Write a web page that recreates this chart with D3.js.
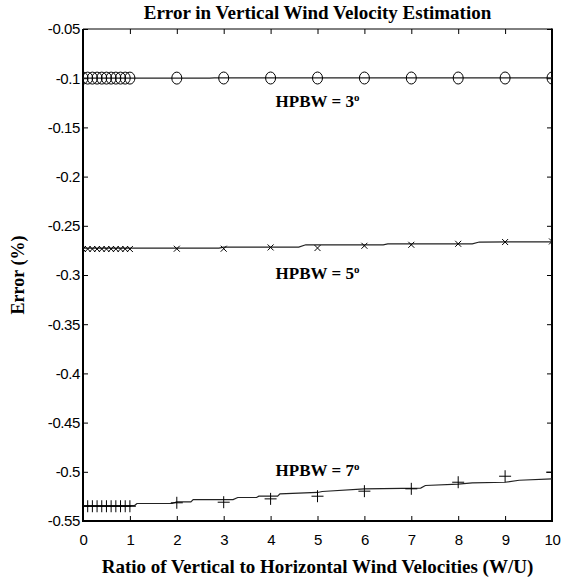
<!DOCTYPE html>
<html>
<head>
<meta charset="utf-8">
<script src="https://cdn.jsdelivr.net/npm/d3@7"></script>
<style>
    body { margin: 0; background: #fff; }
    svg { display: block; }
</style>
</head>
<body>
<div class="chart"></div>
<script>
// Données
const ratios = [0, 0.1, 0.2, 0.3, 0.4, 0.5, 0.6, 0.7, 0.8, 0.9, 1, 2, 3, 4, 5, 6, 7, 8, 9, 10]

const err3 = [-0.0999, -0.0999, -0.0999, -0.0999, -0.0999, -0.0999, -0.0999, -0.0999, -0.0999, -0.0999, -0.0999,
    -0.0999, -0.0998, -0.0998, -0.0998, -0.0998, -0.0998, -0.0998, -0.0998, -0.0998]
const err5 = [-0.2736, -0.2736, -0.2736, -0.2736, -0.2736, -0.2736, -0.2736, -0.2736, -0.2736, -0.2736, -0.2736,
    -0.2733, -0.2733, -0.2720, -0.2726, -0.2703, -0.2693, -0.2683, -0.2665, -0.2659]
const err7 = [-0.535, -0.535, -0.535, -0.535, -0.535, -0.535, -0.535, -0.535, -0.535, -0.535, -0.535,
    -0.5315, -0.5309, -0.5275, -0.5248, -0.5197, -0.5173, -0.5106, -0.5045, -0.5004]

// Courbes continues (en escalier)
const curve3X = [0, 2.7, 2.8, 10]
const curve3Y = [-0.1000, -0.1000, -0.0997, -0.0997]
const curve5X = [0, 2.9, 3.0, 4.6, 4.75, 6.4, 6.5, 8.3, 8.45, 10]
const curve5Y = [-0.2726, -0.2726, -0.2716, -0.2716, -0.2693, -0.2693, -0.2683, -0.2683, -0.2665, -0.2663]
const curve7X = [0, 1.1, 1.15, 1.9, 2.0, 2.3, 2.35, 3.2, 3.3, 3.7, 3.75, 4.15, 4.2, 5.0, 5.1, 6, 7.2, 7.3, 8, 8.3, 9, 9.3, 10]
const curve7Y = [-0.5343, -0.5343, -0.5322, -0.5322, -0.5305, -0.5305, -0.5282, -0.5282, -0.5261, -0.5261, -0.5248,
    -0.5248, -0.5224, -0.5210, -0.5200, -0.5173, -0.5165, -0.5139, -0.5125, -0.5112, -0.5106, -0.5086, -0.5071]

const xTicks = [0, 1, 2, 3, 4, 5, 6, 7, 8, 9, 10]
const yTicks = [-0.05, -0.1, -0.15, -0.2, -0.25, -0.3, -0.35, -0.4, -0.45, -0.5, -0.55]
const yTickLabels = ['-0.05', '-0.1', '-0.15', '-0.2', '-0.25', '-0.3', '-0.35', '-0.4', '-0.45', '-0.5', '-0.55']

const labels = [
    { text: 'HPBW = 3', x: 5, y: -0.129 },
    { text: 'HPBW = 5', x: 5, y: -0.304 },
    { text: 'HPBW = 7', x: 5, y: -0.5045 }
]

// Dimensions
const width = 568,
    height = 580
const margin = { top: 29, right: 16, bottom: 59, left: 83 }
const plotW = width - margin.left - margin.right,
    plotH = height - margin.top - margin.bottom

const svg = d3.select('.chart')
    .append('svg')
    .attr('width', width)
    .attr('height', height)

const g = svg.append('g')
    .attr('transform', `translate(${margin.left}, ${margin.top})`)

// Échelles
const x = d3.scaleLinear().domain([0, 10]).range([0, plotW])
const y = d3.scaleLinear().domain([-0.55, -0.05]).range([plotH, 0])

g.append('clipPath')
    .attr('id', 'clip')
    .append('rect')
    .attr('width', plotW)
    .attr('height', plotH)

const serif = "'Liberation Serif', 'Times New Roman', serif"
const sans = "'Liberation Sans', Arial, sans-serif"

// Axes (ticks vers l'intérieur, sur les 4 côtés)
const tickLen = 5
const axB = g.append('g')
    .attr('transform', `translate(0, ${plotH})`)
    .call(d3.axisBottom(x).tickValues(xTicks).tickSize(-tickLen).tickPadding(13).tickFormat(d3.format('d')))
const axT = g.append('g')
    .call(d3.axisTop(x).tickValues(xTicks).tickSize(-tickLen).tickFormat(''))
const axL = g.append('g')
    .call(d3.axisLeft(y).tickValues(yTicks).tickSize(-tickLen).tickPadding(3)
        .tickFormat((d, i) => yTickLabels[i]))
const axR = g.append('g')
    .attr('transform', `translate(${plotW}, 0)`)
    .call(d3.axisRight(y).tickValues(yTicks).tickSize(-tickLen).tickFormat(''))

;[axB, axT, axL, axR].forEach(ax => {
    ax.select('.domain').remove()
    ax.selectAll('line').attr('stroke', '#000')
    ax.selectAll('text')
        .attr('fill', '#000')
        .style('font-family', sans)
        .style('font-size', '15px')
        .style('letter-spacing', '-0.4px')
})

// Cadre
g.append('line').attr('x1', 0).attr('x2', plotW).attr('y1', 0).attr('y2', 0)
    .attr('stroke', '#000').attr('stroke-width', 1)
g.append('line').attr('x1', 0).attr('x2', plotW).attr('y1', plotH).attr('y2', plotH)
    .attr('stroke', '#000').attr('stroke-width', 2)
g.append('line').attr('x1', 0).attr('x2', 0).attr('y1', 0).attr('y2', plotH + 1)
    .attr('stroke', '#000').attr('stroke-width', 2)
g.append('line').attr('x1', plotW).attr('x2', plotW).attr('y1', -0.5).attr('y2', plotH + 1)
    .attr('stroke', '#000').attr('stroke-width', 2)

const plot = g.append('g').attr('clip-path', 'url(#clip)')

// Courbes
const line = d3.line().x(d => x(d[0])).y(d => y(d[1]))
const curves = [
    d3.zip(curve3X, curve3Y),
    d3.zip(curve5X, curve5Y),
    d3.zip(curve7X, curve7Y)
]
plot.selectAll('.curve')
    .data(curves)
    .join('path')
    .attr('class', 'curve')
    .attr('d', line)
    .attr('fill', 'none')
    .attr('stroke', '#222')
    .attr('stroke-width', 1.2)

// Marqueurs cercles (3º)
plot.selectAll('.m3')
    .data(d3.zip(ratios, err3))
    .join('ellipse')
    .attr('class', 'm3')
    .attr('cx', d => x(d[0]))
    .attr('cy', d => y(d[1]))
    .attr('rx', 5)
    .attr('ry', 6)
    .attr('fill', 'none')
    .attr('stroke', '#000')
    .attr('stroke-width', 1)

// Marqueurs x (5º)
const s5 = 3
plot.selectAll('.m5')
    .data(d3.zip(ratios, err5))
    .join('path')
    .attr('class', 'm5')
    .attr('d', d => {
        const cx = x(d[0]), cy = y(d[1])
        return `M${cx - s5},${cy - s5}L${cx + s5},${cy + s5}M${cx - s5},${cy + s5}L${cx + s5},${cy - s5}`
    })
    .attr('stroke', '#000')
    .attr('stroke-width', 1)

// Marqueurs + (7º)
const s7 = 6
plot.selectAll('.m7')
    .data(d3.zip(ratios, err7))
    .join('path')
    .attr('class', 'm7')
    .attr('d', d => {
        const cx = x(d[0]), cy = y(d[1])
        return `M${cx - s7},${cy}L${cx + s7},${cy}M${cx},${cy - s7}L${cx},${cy + s7}`
    })
    .attr('stroke', '#000')
    .attr('stroke-width', 1)

// Étiquettes HPBW
const lab = g.selectAll('.lab')
    .data(labels)
    .join('text')
    .attr('class', 'lab')
    .attr('x', d => x(d.x))
    .attr('y', d => y(d.y))
    .attr('text-anchor', 'middle')
    .style('font-family', serif)
    .style('font-weight', 'bold')
    .style('font-size', '17px')
    .text(d => d.text)
lab.append('tspan')
    .attr('dy', -6)
    .style('font-size', '11px')
    .text('o')

// Titres
svg.append('text')
    .attr('x', margin.left + plotW / 2)
    .attr('y', 19)
    .attr('text-anchor', 'middle')
    .style('font-family', serif)
    .style('font-weight', 'bold')
    .style('font-size', '19px')
    .text('Error in Vertical Wind Velocity Estimation')

svg.append('text')
    .attr('x', margin.left + plotW / 2)
    .attr('y', 573)
    .attr('text-anchor', 'middle')
    .style('font-family', serif)
    .style('font-weight', 'bold')
    .style('font-size', '19px')
    .text('Ratio of Vertical to Horizontal Wind Velocities (W/U)')

svg.append('text')
    .attr('transform', `translate(24, ${margin.top + plotH / 2}) rotate(-90)`)
    .attr('text-anchor', 'middle')
    .style('font-family', serif)
    .style('font-weight', 'bold')
    .style('font-size', '18px')
    .text('Error (%)')
</script>
</body>
</html>
